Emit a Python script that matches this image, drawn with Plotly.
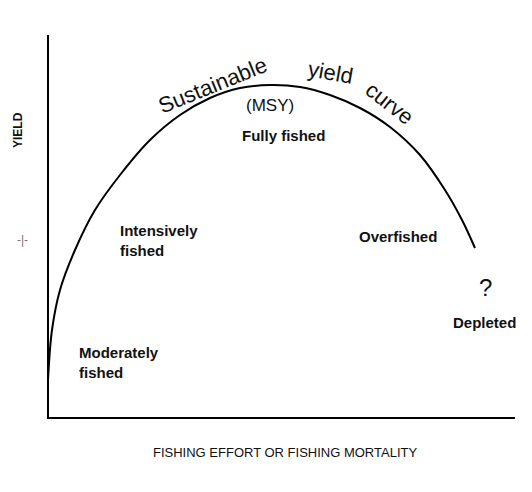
import plotly.graph_objects as go

# curve (pixel-like units, y downward)
effort = [48,52,60,75,95,120,150,180,210,240,270,300,330,360,390,420,445,462,475]
yield_ = [380,330,290,250,210,175,140,115,98,88,85,87,95,108,127,155,190,220,248]

labels = ["Fully fished","Intensively<br>fished","Overfished","Depleted","Moderately<br>fished"]
lx = [283,118,398,484,77]
ly = [135,240,236,322,362]
lanchor = ["center","left","center","center","left"]

fig = go.Figure()
fig.add_trace(go.Scatter(x=effort, y=yield_, mode="lines", line=dict(color="black", width=2, shape="spline"), hoverinfo="skip"))
fig.add_trace(go.Scatter(x=[48,48,515], y=[35,418,418], mode="lines", line=dict(color="black", width=2), hoverinfo="skip"))

f = "Liberation Sans"
for t,x,y,a in zip(labels,lx,ly,lanchor):
    fig.add_annotation(x=x,y=y,text="<b>"+t+"</b>",showarrow=False,xanchor=a,align="left",font=dict(family=f,size=15,color="#111"))
fig.add_annotation(x=270,y=105,text="(MSY)",showarrow=False,font=dict(family=f,size=17,color="#111"))
fig.add_annotation(x=485,y=287,text="?",showarrow=False,font=dict(family=f,size=24,color="#111"))
for t,x,y,r in [("Sustainable",212,85,-22),("yield",330,72,10),("curve",390,103,38)]:
    fig.add_annotation(x=x,y=y,text=t,showarrow=False,textangle=r,font=dict(family=f,size=22,color="#111"))
fig.add_annotation(x=18,y=130,text="<b>YIELD</b>",showarrow=False,textangle=-90,font=dict(family=f,size=12,color="#111"))
fig.add_annotation(x=22,y=240,text="-|-",showarrow=False,font=dict(family=f,size=12,color="#777"))
fig.add_annotation(x=285,y=452,text="FISHING EFFORT OR FISHING MORTALITY",showarrow=False,font=dict(family=f,size=13,color="#111"))

fig.update_layout(width=532,height=492,margin=dict(l=0,r=0,t=0,b=0),showlegend=False,
    plot_bgcolor="white",paper_bgcolor="white",
    xaxis=dict(range=[8,540],visible=False,fixedrange=True),
    yaxis=dict(range=[500,8],visible=False,fixedrange=True))
fig.write_html("out.html")
